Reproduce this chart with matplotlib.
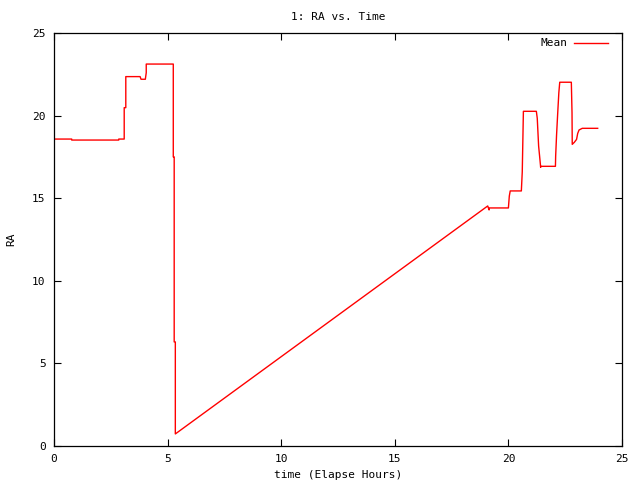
import matplotlib
matplotlib.use("Agg")
import matplotlib.pyplot as plt

# RA vs. time
time_h = [0.0, 0.78, 0.78, 2.85, 2.85, 3.09, 3.09, 3.16, 3.16, 3.79, 3.83, 4.02,
          4.06, 4.06, 5.25, 5.25, 5.29, 5.29, 5.34, 5.34,
          19.09, 19.15, 19.15, 20.0, 20.04, 20.08, 20.57, 20.61, 20.66, 21.23,
          21.27, 21.33, 21.39, 21.42, 21.42, 22.07, 22.08, 22.12, 22.17, 22.22,
          22.26, 22.77, 22.80, 22.81, 22.90, 23.00, 23.05, 23.11, 23.25, 23.93]
ra_mean = [18.58, 18.58, 18.52, 18.52, 18.58, 18.58, 20.48, 20.48, 22.36, 22.36, 22.2, 22.2,
           22.6, 23.12, 23.12, 17.5, 17.5, 6.3, 6.3, 0.73,
           14.53, 14.29, 14.41, 14.41, 15.13, 15.44, 15.44, 16.59, 20.26, 20.26,
           19.84, 18.16, 17.31, 16.87, 16.93, 16.93, 17.55, 18.83, 20.14, 21.39,
           22.02, 22.02, 20.18, 18.26, 18.38, 18.56, 18.92, 19.13, 19.23, 19.23]

xticks = [0, 5, 10, 15, 20, 25]
yticks = [0, 5, 10, 15, 20, 25]

plt.rcParams['font.family'] = 'DejaVu Sans Mono'
plt.rcParams['font.size'] = 8

fig = plt.figure(figsize=(6.4, 4.8), dpi=100)
ax = fig.add_axes([54/640, 34/480, 568/640, 413/480])

ax.plot(time_h, ra_mean, color='#ff0000', linewidth=1.0, label='Mean')

ax.set_xlim(0, 25)
ax.set_ylim(0, 25)
ax.set_xticks(xticks)
ax.set_yticks(yticks)
ax.tick_params(direction='in', length=5, width=0.8, top=True, right=True, pad=6)
for s in ax.spines.values():
    s.set_linewidth(0.9)

ax.set_title("1: RA vs. Time", fontsize=8, pad=9)
ax.set_xlabel("time (Elapse Hours)", labelpad=4)
ax.set_ylabel("RA")
ax.yaxis.set_label_coords(-0.066, 0.5)

ax.legend(loc='upper right', frameon=False, markerfirst=False,
          bbox_to_anchor=(1 - 10/568, 1 - 1/413), borderaxespad=0,
          handlelength=3.0, handletextpad=0.6)

fig.savefig("out.png", dpi=100)
